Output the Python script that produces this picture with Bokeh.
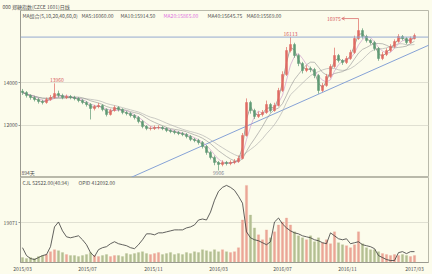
import pandas as pd
from bokeh.plotting import figure
from bokeh.layouts import column
from bokeh.models import (ColumnDataSource, FixedTicker, Range1d, Label, Span,
                          Arrow, OpenHead)
from bokeh.embed import file_html
from bokeh.resources import INLINE

# ---------------- data (weekly approximation) ----------------
tick_pos = [0, 16.25, 32.75, 49, 65, 81.25, 98]
tick_labels = ["2015/03", "2015/07", "2015/11", "2016/03", "2016/07", "2016/11", "2017/03"]

closes = [13535, 13396, 13303, 13210, 13117, 13070, 13210, 13303, 13489, 13396,
          13303, 13349, 13303, 13256, 13163, 13070, 12977, 12791, 12884, 12931,
          12745, 12512, 12698, 12838, 12745, 12605, 12559, 12466, 12373, 12187,
          11954, 11861, 11861, 11908, 11908, 11861, 11768, 11722, 11675, 11629,
          11582, 11489, 11350, 11303, 11210, 11024, 10745, 10513, 10280, 10187,
          10280, 10234, 10280, 10327, 10466, 11536, 13070, 12698, 12419, 12512,
          12605, 12977, 12698, 12931, 13628, 14372, 15488, 15767, 15256, 14884,
          14558, 14651, 14605, 14326, 13628, 13861, 14279, 14744, 15256, 15023,
          14930, 15116, 15395, 16046, 16418, 16139, 15953, 15860, 15581, 15116,
          15302, 15488, 15674, 15907, 16139, 16046, 15860, 16046, 16186]
highs = [13700, 13600, 13450, 13380, 13290, 13200, 13300, 13420, 13960, 13620,
         13480, 13440, 13420, 13380, 13320, 13230, 13140, 13040, 12960, 13050,
         12990, 12800, 12780, 12930, 12900, 12800, 12680, 12620, 12530, 12440,
         12250, 12020, 11960, 12000, 12010, 11980, 11920, 11830, 11790, 11740,
         11700, 11650, 11560, 11420, 11380, 11280, 11090, 10820, 10600, 10350,
         10380, 10350, 10380, 10440, 10600, 11650, 13260, 13150, 12780, 12650,
         12720, 13160, 13050, 13060, 13750, 14520, 15650, 16113, 15850, 15330,
         14960, 14800, 14740, 14680, 14400, 13980, 14400, 14850, 15620, 15330,
         15090, 15230, 15520, 16180, 16975, 16520, 16220, 16030, 15940, 15650,
         15420, 15590, 15780, 16010, 16250, 16210, 16110, 16140, 16280]
lows = [13420, 13300, 13200, 13120, 13020, 12980, 13010, 13150, 13250, 13300,
        13220, 13230, 13220, 13170, 13080, 12990, 12880, 12280, 12700, 12800,
        12660, 12420, 12460, 12640, 12650, 12520, 12470, 12380, 12280, 12100,
        11870, 11780, 11770, 11790, 11820, 11780, 11690, 11640, 11590, 11550,
        11500, 11400, 11270, 11220, 11110, 10930, 10640, 10420, 10150, 9906,
        10100, 10140, 10150, 10200, 10260, 10420, 11480, 12550, 12300, 12350,
        12420, 12540, 12600, 12640, 12880, 13560, 14300, 15400, 15150, 14760,
        14420, 14480, 14480, 14200, 13480, 13560, 13800, 14200, 14680, 14930,
        14820, 14860, 15050, 15330, 15980, 16040, 15860, 15760, 15480, 15010,
        15040, 15230, 15420, 15610, 15850, 15960, 15780, 15800, 16000]
first_open = 13600

volume = [2384, 1907, 2384, 1907, 2861, 3338, 3814, 5245, 6198, 5722,
          4768, 3814, 3338, 3338, 2861, 3338, 3814, 4768, 3338, 2861,
          3338, 3814, 2861, 3338, 3338, 2861, 4291, 3814, 4291, 4768,
          5245, 4291, 3814, 4291, 4768, 3814, 4291, 4768, 3814, 4291,
          3814, 4768, 4291, 5245, 4768, 6198, 5722, 5245, 6198, 5245,
          6198, 5245, 4768, 5245, 7152, 20502, 37190, 22886, 16688, 13350,
          10966, 15734, 11920, 14781, 18118, 19549, 21456, 18118, 14781, 12874,
          11920, 10966, 12874, 10013, 11920, 9536, 10966, 9059, 14781, 9536,
          8582, 8105, 7152, 8582, 14781, 9059, 7152, 6198, 6198, 5245,
          4291, 3814, 3338, 3814, 3338, 3814, 3338, 2861, 3338]

open_interest = [562000, 262300, 149900, 112400, 187400, 262300, 299800, 599500, 1348900, 1536300,
                 1199000, 974200, 936800, 974200, 1011700, 861800, 674500, 374700, 224800, 487100,
                 562000, 599500, 711900, 786900, 711900, 674500, 637000, 562000, 524600, 674500,
                 861800, 1086600, 1086600, 1049200, 1124100, 1124100, 1161600, 1199000, 1236500, 1236500,
                 1236500, 1311500, 1348900, 1423900, 1611200, 1648700, 1611200, 1911000, 2360600, 2697800,
                 2847700, 2922700, 2847700, 2735300, 2510500, 2248200, 1161600, 936800, 861800, 824300,
                 749400, 674500, 786900, 1536300, 1686200, 1461300, 1311500, 1199000, 1124100, 1086600,
                 1011700, 974200, 936800, 861800, 824300, 749400, 711900, 1124100, 1011700, 899300,
                 861800, 899300, 711900, 749400, 786900, 674500, 637000, 599500, 524600, 262300,
                 187400, 112400, 74900, 74900, 374700, 412100, 337200, 412100, 412092]

level_line = 16113
trend_x = [27.0, 102.5]
trend_y = [9572, 15814]

title_text = "000 郑糖指数(CZCE 1601)日线"
ma_texts = ["MA组合(5,10,20,40,60,0)", "MA5:16060.00", "MA10:15914.50",
            "MA20:15865.00", "MA40:15645.75", "MA60:15569.00"]
vol_texts = ["CJL 52522.00(40.94)", "OPID 412092.00"]
days_text = "894天"

# ---------------- styling ----------------
BG = "#fcfcec"
FONT = "Noto Sans CJK SC"
TXT = "#505050"
UP = "#e06a62"
DN = "#5f9a74"
UP_V = "#eba596"
DN_V = "#b3bf92"
FS = "5px"

x = list(range(len(closes)))
opens = [first_open] + closes[:-1]
up = [c >= o for o, c in zip(opens, closes)]
cs = pd.Series(closes, dtype=float)
src = ColumnDataSource(dict(
    x=x, open=opens, close=closes, high=highs, low=lows,
    color=[UP if u else DN for u in up],
    vcolor=[UP_V if u else DN_V for u in up],
    vol=volume, oi=open_interest,
    ma10=cs.rolling(2, min_periods=1).mean(),
    ma20=cs.rolling(4, min_periods=1).mean(),
    ma40=cs.rolling(8, min_periods=1).mean(),
    ma60=cs.rolling(12, min_periods=1).mean(),
))

xr = Range1d(-0.5, 101.5)

def style_axis(ax):
    ax.minor_tick_line_color = None
    ax.major_tick_in = 0
    ax.axis_line_color = "#9a9a90"
    ax.major_tick_line_color = "#9a9a90"
    ax.major_label_text_font = FONT
    ax.major_label_text_font_size = FS
    ax.major_label_text_color = TXT

# ---------------- price panel ----------------
p1 = figure(width=432, height=177, output_backend="svg", toolbar_location=None,
            x_range=xr, y_range=Range1d(9580, 17350), x_axis_location=None,
            min_border_left=20, min_border_right=4, min_border_top=9, min_border_bottom=0)
p1.title.text = title_text
p1.title.text_font = FONT
p1.title.text_font_size = FS
p1.title.text_font_style = "normal"
p1.title.text_color = TXT
p1.title.align = "left"
p1.title.offset = -18
p1.title.standoff = 1
p1.background_fill_color = BG
p1.border_fill_color = BG
p1.outline_line_color = "#b9b9aa"
p1.xgrid.visible = False
p1.ygrid.grid_line_color = "#e0e0d2"
p1.yaxis.ticker = FixedTicker(ticks=[12000, 14000])
style_axis(p1.yaxis[0])
p1.yaxis.major_tick_out = 2
p1.yaxis.major_label_standoff = 1

p1.add_layout(Span(location=level_line, dimension="width", line_color="#94aad0", line_width=1))
p1.line(trend_x, trend_y, line_color="#86a2d6", line_width=1)

for col, c, w in [("ma60", "#a8a8a8", 0.6), ("ma40", "#909090", 0.6),
                  ("ma20", "#c890c8", 0.6), ("ma10", "#6a6a6a", 0.6)]:
    p1.line("x", col, source=src, line_color=c, line_width=w)

p1.segment("x", "high", "x", "low", source=src, line_color="color", line_width=0.7)
p1.vbar("x", width=0.5, top="open", bottom="close", source=src,
        fill_color="color", line_color="color", line_width=0.5)

RED_TXT = "#d65a5a"
def price_label(xv, yv, text, color, baseline, yoff=0, align="center"):
    p1.add_layout(Label(x=xv, y=yv, text=text, text_font=FONT, text_font_size=FS,
                        text_color=color, text_align=align, text_baseline=baseline,
                        y_offset=yoff))

i_a = highs.index(max(highs[:30]))
price_label(i_a + 0.6, highs[i_a], f"{highs[i_a]}", RED_TXT, "bottom", 1)
i_b = highs.index(level_line)
price_label(i_b, highs[i_b], f"{highs[i_b]}", RED_TXT, "bottom", 1)
i_c = highs.index(max(highs))
price_label(i_c - 4.4, highs[i_c], f"{highs[i_c]}", RED_TXT, "middle", 0, "right")
p1.add_layout(Arrow(end=OpenHead(size=3, line_color=RED_TXT, line_width=0.7),
                    x_start=i_c, y_start=highs[i_c], x_end=i_c - 4.2, y_end=highs[i_c],
                    line_color=RED_TXT, line_width=0.7))
i_d = lows.index(min(lows))
price_label(i_d, lows[i_d], f"{lows[i_d]}", "#7a7a8a", "top", -1)

def screen_label(p, sx, sy, text, color=TXT):
    p.add_layout(Label(x=sx, y=sy, x_units="screen", y_units="screen", text=text,
                       text_font=FONT, text_font_size=FS, text_color=color,
                       text_baseline="middle", text_align="left"))

ma_x = [2, 61, 100, 143, 187, 226]
ma_col = [TXT, TXT, TXT, "#e070e0", TXT, TXT]
for sx, t, c in zip(ma_x, ma_texts, ma_col):
    screen_label(p1, sx, 162, t, c)
screen_label(p1, 1, 5, days_text)

# ---------------- volume / open interest panel ----------------
p2 = figure(width=432, height=97, output_backend="svg", toolbar_location=None,
            x_range=xr, y_range=Range1d(0, 41000),
            min_border_left=20, min_border_right=4, min_border_top=0, min_border_bottom=11)
p2.extra_y_ranges = {"oi": Range1d(0, 3222000)}
p2.background_fill_color = BG
p2.border_fill_color = BG
p2.outline_line_color = "#b9b9aa"
p2.xgrid.visible = False
p2.ygrid.grid_line_color = "#e0e0d2"
p2.yaxis.ticker = FixedTicker(ticks=[19071])
style_axis(p2.yaxis[0])
p2.yaxis.major_tick_out = 2
p2.yaxis.major_label_standoff = 1
p2.xaxis.ticker = FixedTicker(ticks=tick_pos)
p2.xaxis.major_label_overrides = {t: l for t, l in zip(tick_pos, tick_labels)}
style_axis(p2.xaxis[0])
p2.xaxis.major_tick_out = 0
p2.xaxis.major_label_standoff = 2

p2.vbar("x", width=0.55, top="vol", bottom=0, source=src,
        fill_color="vcolor", line_color="vcolor", line_width=0.3)
p2.line("x", "oi", source=src, y_range_name="oi", line_color="#3a3a3a", line_width=0.8)

screen_label(p2, 2, 80, vol_texts[0])
screen_label(p2, 58, 80, vol_texts[1])

layout = column(p1, p2, spacing=0)
layout.styles = {"background-color": BG}
open("out.html", "w").write(file_html(layout, INLINE))
